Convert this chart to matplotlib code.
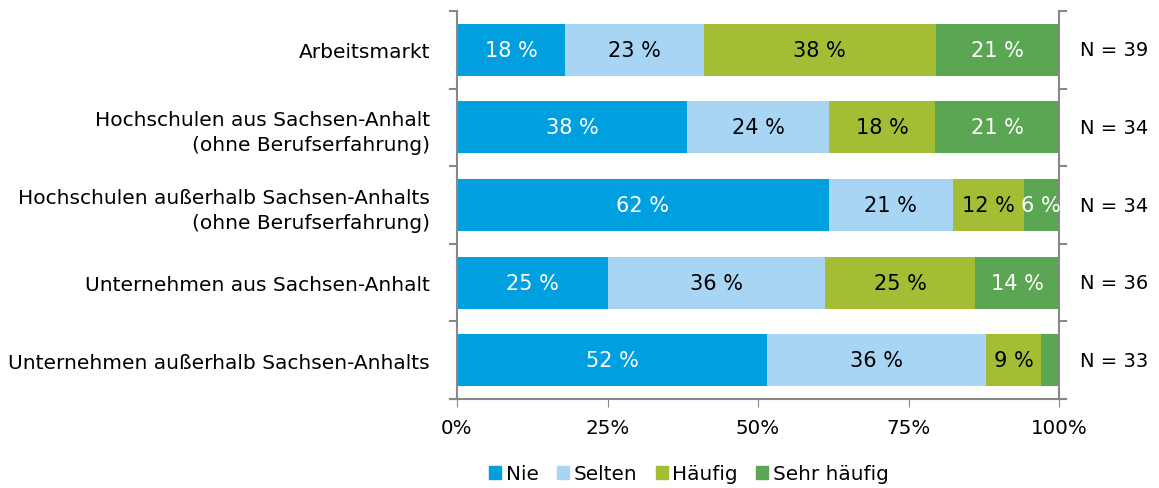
import numpy as np
import matplotlib.pyplot as plt
from matplotlib.patches import Patch

# answers per source and frequency (counts), percentages are derived from these
categories = ['Arbeitsmarkt',
              'Hochschulen aus Sachsen-Anhalt\n(ohne Berufserfahrung)',
              'Hochschulen außerhalb Sachsen-Anhalts\n(ohne Berufserfahrung)',
              'Unternehmen aus Sachsen-Anhalt',
              'Unternehmen außerhalb Sachsen-Anhalts']
series = ['Nie', 'Selten', 'Häufig', 'Sehr häufig']
nie = [7, 13, 21, 9, 17]
selten = [9, 8, 7, 13, 12]
haeufig = [15, 6, 4, 9, 3]
sehr_haeufig = [8, 7, 2, 5, 1]
n_total = [39, 34, 34, 36, 33]
xticks = [0, 25, 50, 75, 100]

colors = ['#009fe0', '#a9d5f5', '#a3bd35', '#5ba653']
text_colors = ['white', 'black', 'black', 'white']

counts = np.array([nie, selten, haeufig, sehr_haeufig], dtype=float)
pct = counts / np.array(n_total) * 100

plt.rcParams['font.family'] = 'DejaVu Sans'
fig = plt.figure(figsize=(11.59, 4.89), dpi=100)
ax = fig.add_axes([457 / 1159, 1 - 400 / 489, 602 / 1159, 388 / 489])

y = np.arange(len(categories))
left = np.zeros(len(categories))
for i, name in enumerate(series):
    ax.barh(y, pct[i], left=left, height=0.67, color=colors[i], label=name)
    for j in range(len(categories)):
        if pct[i][j] >= 5:
            ax.text(left[j] + pct[i][j] / 2, y[j], '%d %%' % round(pct[i][j]),
                    ha='center', va='center', fontsize=15, color=text_colors[i])
    left += pct[i]

for j, n in enumerate(n_total):
    ax.text(103.5, y[j], 'N = %d' % n, ha='left', va='center', fontsize=14)

ax.set_xlim(0, 100)
ax.set_ylim(len(categories) - 0.5, -0.5)
ax.set_yticks(y)
ax.set_yticklabels(categories, fontsize=14.5, linespacing=1.4)
ax.set_xticks(xticks)
ax.set_xticklabels(['%d%%' % t for t in xticks], fontsize=14.3)
ax.tick_params(axis='y', length=0, pad=19.5)
ax.tick_params(axis='x', length=6, color='#888888', pad=8)

# separators between the categories on both side axes
for b in np.arange(-0.5, len(categories), 1):
    ax.plot([-1.2, 0], [b, b], color='#888888', lw=1.5, clip_on=False)
    ax.plot([100, 101.2], [b, b], color='#888888', lw=1.5, clip_on=False)
ax.plot([-1.2, 101.2], [len(categories) - 0.5] * 2, color='#888888', lw=1.5,
        clip_on=False)

for s in ['top', 'bottom']:
    ax.spines[s].set_visible(False)
for s in ['left', 'right']:
    ax.spines[s].set_color('#888888')
    ax.spines[s].set_linewidth(1.5)

handles = [Patch(color=c, label=s) for c, s in zip(colors, series)]
fig.legend(handles=handles, loc='center', bbox_to_anchor=(689 / 1159, 1 - 475 / 489),
           ncol=4, frameon=False, fontsize=14.4, handlelength=0.6, handleheight=0.6,
           handletextpad=0.25, columnspacing=0.9)

fig.savefig('out.png', dpi=100)
